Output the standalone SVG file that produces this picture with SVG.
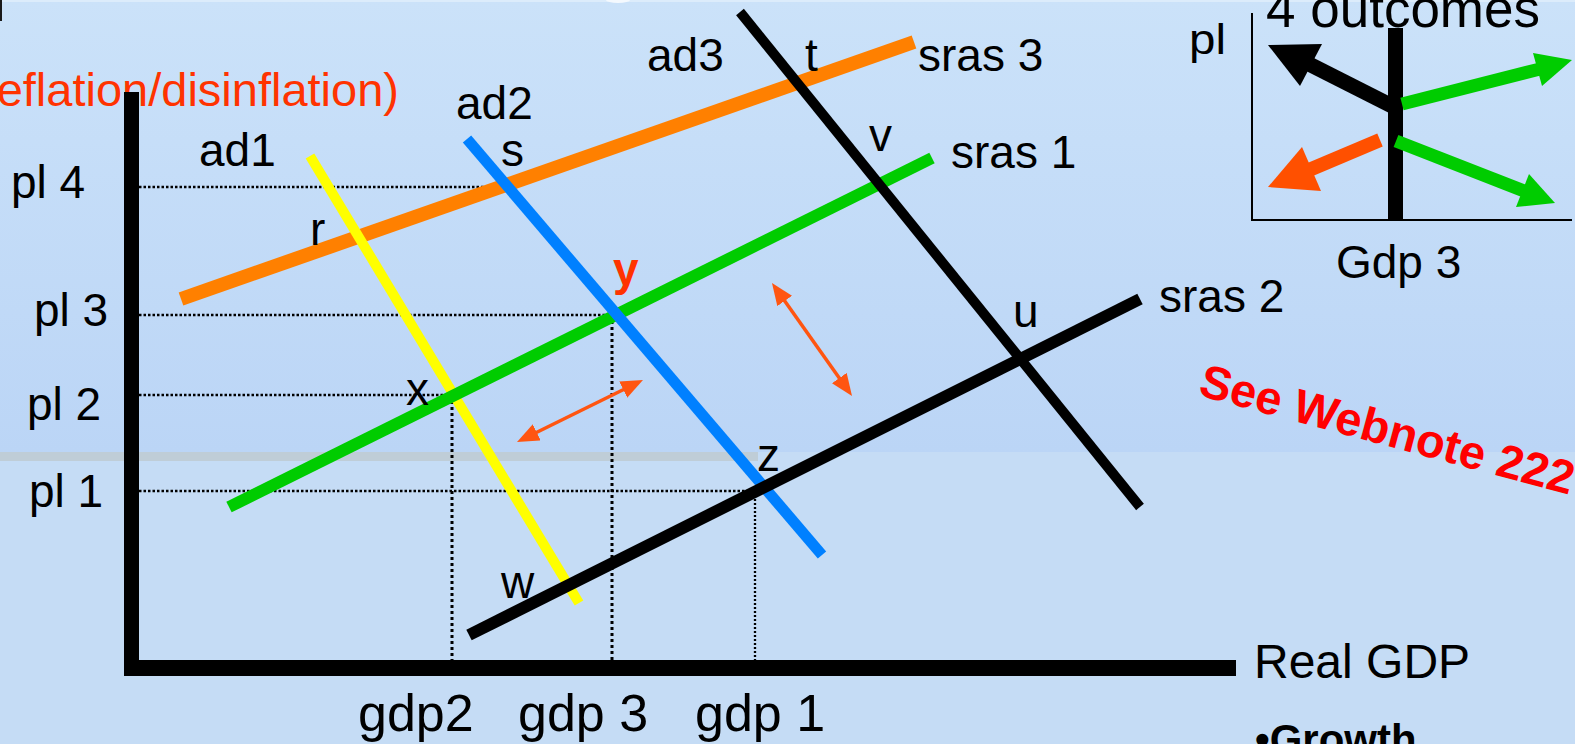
<svg xmlns="http://www.w3.org/2000/svg" width="1575" height="744" viewBox="0 0 1575 744">
<defs>
<linearGradient id="bg" x1="0" y1="0" x2="0" y2="1">
<stop offset="0" stop-color="#cbe2f9"/>
<stop offset="1" stop-color="#bbd5f6"/>
</linearGradient>
<marker id="ah" viewBox="0 0 22 18" markerWidth="22" markerHeight="18" refX="14" refY="9" orient="auto-start-reverse" markerUnits="userSpaceOnUse">
<path d="M0,0 L22,9 L0,18 Z" fill="#ff5511"/>
</marker>
<style>
text{font-family:"Liberation Sans",Arial,Helvetica,sans-serif;fill:#000}
.lb{font-size:46px}
.ax{font-size:48px}
.gd{font-size:52px}
.curve{fill:none;stroke-linecap:butt}
.dotH{stroke:#000;stroke-width:2.5;stroke-dasharray:2.5 2;fill:none}
.dotV{stroke:#000;stroke-width:3;stroke-dasharray:3 3;fill:none}
.dotV2{stroke:#000;stroke-width:2.3;stroke-dasharray:2 2;fill:none}
.dbl{stroke:#ff5511;stroke-width:3.5;fill:none;marker-start:url(#ah);marker-end:url(#ah)}
</style>
</defs>

<g id="background">
<rect x="0" y="0" width="1575" height="453" fill="url(#bg)"/>
<rect x="0" y="452" width="1575" height="292" fill="#c5dcf5"/>
<rect x="0" y="452" width="758" height="9" fill="#bfcdd7"/>
<rect x="0" y="0" width="1575" height="2" fill="#dcecfb"/>
<ellipse cx="618" cy="0" rx="12" ry="3" fill="#f4f9fe"/>
<rect x="0" y="0" width="2" height="21" fill="#1a1a1a"/>
</g>

<g id="title">
<text x="399" y="106" text-anchor="end" font-size="47" style="fill:#ff3300">eflation/disinflation)</text>
</g>

<g id="guides">
<line class="dotH" x1="139" y1="187" x2="505" y2="187"/>
<line class="dotH" x1="139" y1="315" x2="614" y2="315"/>
<line class="dotH" x1="139" y1="395" x2="453" y2="395"/>
<line class="dotH" x1="139" y1="491" x2="757" y2="491"/>
<line class="dotV" x1="452" y1="395" x2="452" y2="660"/>
<line class="dotV" x1="612" y1="315" x2="612" y2="660"/>
<line class="dotV2" x1="755" y1="491" x2="755" y2="660"/>
</g>

<g id="axes">
<line x1="131.5" y1="92" x2="131.5" y2="676" stroke="#000" stroke-width="15"/>
<line x1="124" y1="668" x2="1236" y2="668" stroke="#000" stroke-width="16"/>
</g>

<g id="curves">
<line id="sras3" class="curve" x1="181" y1="299" x2="914" y2="42" stroke="#ff8000" stroke-width="14"/>
<line id="ad1" class="curve" x1="310" y1="156" x2="579" y2="603" stroke="#ffff00" stroke-width="10"/>
<line id="sras1" class="curve" x1="229" y1="507" x2="932" y2="158" stroke="#00cc00" stroke-width="12"/>
<line id="ad2" class="curve" x1="467" y1="139" x2="822" y2="555" stroke="#0080ff" stroke-width="11"/>
<line id="sras2" class="curve" x1="469" y1="635" x2="1140" y2="299" stroke="#000" stroke-width="12"/>
<line id="ad3" class="curve" x1="740" y1="12" x2="1140" y2="507" stroke="#000" stroke-width="10"/>
</g>

<g id="connectors">
<line class="dbl" x1="524.2" y1="438.5" x2="635.8" y2="383.5"/>
<line class="dbl" x1="776.6" y1="289.5" x2="847.4" y2="389.5"/>
</g>

<g id="labels">
<text class="lb" x="11" y="198">pl 4</text>
<text class="lb" x="34" y="326">pl 3</text>
<text class="lb" x="27" y="420">pl 2</text>
<text class="lb" x="29" y="507">pl 1</text>
<text class="lb" x="199" y="166">ad1</text>
<text class="lb" x="456" y="119">ad2</text>
<text class="lb" x="647" y="71">ad3</text>
<text class="lb" x="805" y="71">t</text>
<text class="lb" x="918" y="71">sras 3</text>
<text class="lb" x="869" y="151">v</text>
<text class="lb" x="951" y="168">sras 1</text>
<text class="lb" x="501" y="166">s</text>
<text class="lb" x="310" y="245">r</text>
<text x="613" y="285" font-size="46" font-weight="bold" style="fill:#ff3300">y</text>
<text class="lb" x="406" y="405">x</text>
<text class="lb" x="757" y="471">z</text>
<text class="lb" x="501" y="598">w</text>
<text class="lb" x="1013" y="327">u</text>
<text class="lb" x="1159" y="312">sras 2</text>
<text class="gd" x="358" y="731">gdp2</text>
<text class="gd" x="518" y="731">gdp 3</text>
<text class="gd" x="695" y="731">gdp 1</text>
<text class="ax" x="1254" y="678">Real GDP</text>
<text x="1255" y="754" font-size="42" font-weight="bold">•Growth</text>
<text x="1197" y="395" font-size="47" font-weight="bold" transform="rotate(15 1197 395)" style="fill:#ff0000">See Webnote 222</text>
</g>

<g id="inset">
<line x1="1252" y1="13" x2="1252" y2="221" stroke="#000" stroke-width="2"/>
<line x1="1251" y1="220" x2="1572" y2="220" stroke="#000" stroke-width="2"/>
<text x="1189" y="54" font-size="43" textLength="37" lengthAdjust="spacingAndGlyphs">pl</text>
<text x="1266" y="27" font-size="53">4 outcomes</text>
<text x="1336" y="278" font-size="46">Gdp 3</text>
<line x1="1395.5" y1="28" x2="1395.5" y2="220" stroke="#000" stroke-width="15"/>
<g id="arrow-black">
<line x1="1396" y1="108" x2="1309" y2="64" stroke="#000" stroke-width="15"/>
<polygon points="1268,45 1322,44 1300,86" fill="#000"/>
</g>
<g id="arrow-green-up">
<line x1="1402" y1="104" x2="1540" y2="69" stroke="#00cc00" stroke-width="13"/>
<polygon points="1533,53 1572,60 1542,86" fill="#00cc00"/>
</g>
<g id="arrow-green-down">
<line x1="1396" y1="141" x2="1524" y2="191" stroke="#00cc00" stroke-width="13"/>
<polygon points="1529,174 1555,203 1516,207" fill="#00cc00"/>
</g>
<g id="arrow-orange">
<line x1="1380" y1="140" x2="1309" y2="170" stroke="#ff5000" stroke-width="14"/>
<polygon points="1302,147 1268,187 1321,191" fill="#ff5000"/>
</g>
</g>
</svg>
